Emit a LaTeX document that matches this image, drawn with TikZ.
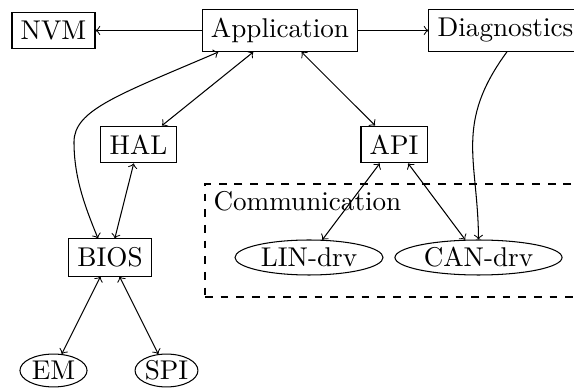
\documentclass[tikz,border=0pt]{standalone}
\usetikzlibrary{calc,shapes.geometric}

\begin{document}
\begin{tikzpicture}[x=0.3831pt,y=-0.3831pt,
  font=\fontsize{10.4}{12}\selectfont,
  box/.style={draw,rectangle},
  oval/.style={draw,ellipse,inner sep=0pt},
  group/.style={draw,dashed,rectangle,inner sep=0pt},
  link/.style={<->}]

  % canvas, with the right-hand edge cutting the last column
  \useasboundingbox (0,0) rectangle (574,390);
  \clip (0,0) rectangle (574,390);

  % communication group
  \node[group,minimum width=147.5pt,minimum height=43.3pt] (comm) at (397.5,240.5) {};
  \node[anchor=base west,inner sep=0pt] (commlabel) at (213,210.5) {Communication};

  % top row
  \node[box] (nvm)  at (53.5,30.5)  {NVM};
  \node[box] (app)  at (280,30.5)   {Application};
  \node[box] (diag) at (505.5,30.5) {Diagnostics};

  % middle layers
  \node[box] (hal)  at (138.5,144.5) {HAL};
  \node[box] (api)  at (394,144.5)   {API};
  \node[box] (bios) at (110,257.5)   {BIOS};

  % drivers
  \node[oval,minimum width=56.7pt,minimum height=13.4pt] (lin) at (309,257.5)   {LIN-drv};
  \node[oval,minimum width=64pt,minimum height=13.4pt]   (can) at (478.5,257.5) {CAN-drv};
  \node[oval,minimum width=25.7pt,minimum height=12.6pt] (em)  at (53.5,370.5)  {EM};
  \node[oval,minimum width=24.1pt,minimum height=12.6pt] (spi) at (166.5,370.5) {SPI};

  % connectors
  \draw[->] (app) -- (nvm);
  \draw[->] (app) -- (diag);
  \draw[link] (app) -- (hal);
  \draw[link] (app) -- (api);
  \draw[link] (hal) -- (bios);
  \draw[link] (bios) -- (em);
  \draw[link] (bios) -- (spi);
  \draw[link] (api) -- (lin);
  \draw[link] (api) -- (can);
  \draw[link] ($(app.south west)+(16.5,0)$)
      .. controls (118,95) and (74,110) .. (74,142)
      .. controls (74,177) and (84.6,205.8) .. ($(bios.north)+(-12,0)$);
  \draw[->] ($(diag.south)+(1.5,0)$)
      .. controls (454,124) and (478,160) .. (can.north);
\end{tikzpicture}
\end{document}
